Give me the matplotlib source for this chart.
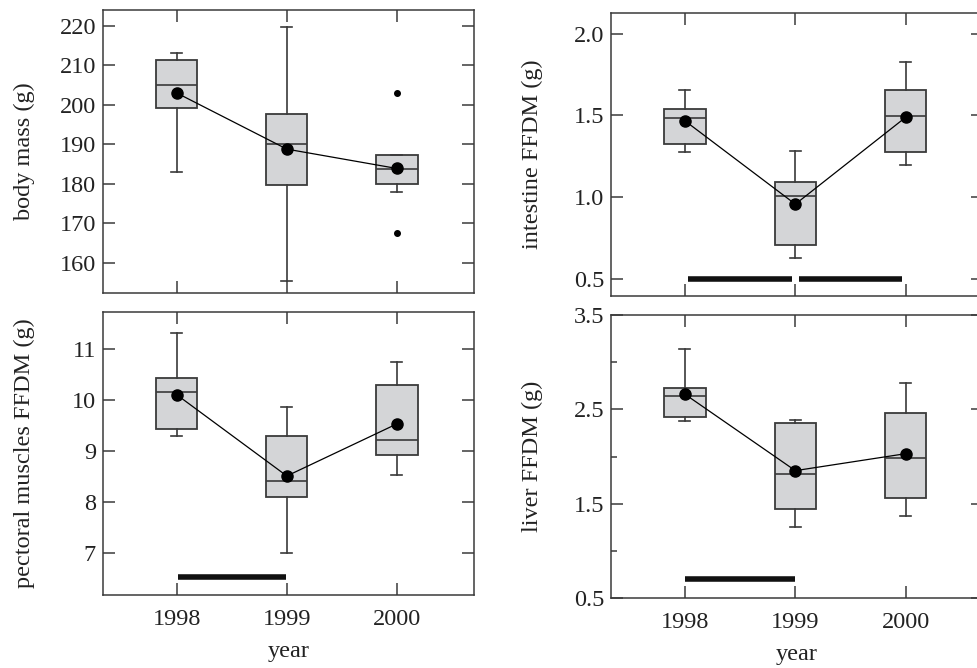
import numpy as np
import matplotlib.pyplot as plt

plt.rcParams['font.family'] = ['Liberation Serif', 'DejaVu Serif']
plt.rcParams['font.size'] = 17.5

years = ['1998', '1999', '2000']

# body mass (g)
mass_lo = [182.9, 155.5, 178.0]
mass_q1 = [199.1, 179.8, 179.9]
mass_med = [204.9, 190.0, 183.7]
mass_q3 = [211.4, 197.6, 187.2]
mass_hi = [213.1, 219.8, 187.2]
mass_mean = [203.0, 188.8, 183.9]
mass_out = [[], [], [203.0, 167.6]]

# intestine FFDM (g)
gut_lo = [1.276, 0.628, 1.196]
gut_q1 = [1.323, 0.705, 1.276]
gut_med = [1.486, 1.003, 1.498]
gut_q3 = [1.539, 1.089, 1.657]
gut_hi = [1.657, 1.282, 1.824]
gut_mean = [1.466, 0.956, 1.488]
gut_out = [[], [], []]
gut_sig = [(0, 1), (1, 2)]
gut_sig_y = 0.5

# pectoral muscles FFDM (g)
pec_lo = [9.30, 7.00, 8.52]
pec_q1 = [9.43, 8.10, 8.92]
pec_med = [10.15, 8.41, 9.22]
pec_q3 = [10.43, 9.29, 10.29]
pec_hi = [11.31, 9.87, 10.74]
pec_mean = [10.10, 8.51, 9.53]
pec_out = [[], [], []]
pec_sig = [(0, 1)]
pec_sig_y = 6.53

# liver FFDM (g)
liv_lo = [2.378, 1.255, 1.368]
liv_q1 = [2.417, 1.446, 1.559]
liv_med = [2.64, 1.81, 1.98]
liv_q3 = [2.723, 2.353, 2.459]
liv_hi = [3.143, 2.392, 2.784]
liv_mean = [2.66, 1.85, 2.03]
liv_out = [[], [], []]
liv_sig = [(0, 1)]
liv_sig_y = 0.70

edge = '#3a3a3a'
fill = '#d4d5d7'


def panel(ax, lo, q1, med, q3, hi, mean, out, ylabel, ylim, yticks,
          sig=(), sig_y=None, gap=0.0):
    pos = np.arange(len(years))
    stats = []
    for i in range(len(years)):
        stats.append(dict(whislo=lo[i], q1=q1[i], med=med[i], q3=q3[i],
                          whishi=hi[i], fliers=out[i]))
    ax.bxp(stats, positions=pos, widths=0.375, capwidths=0.1,
           patch_artist=True, showfliers=True,
           boxprops=dict(facecolor=fill, edgecolor=edge, linewidth=1.3),
           medianprops=dict(color=edge, linewidth=1.2),
           whiskerprops=dict(color=edge, linewidth=1.2),
           capprops=dict(color=edge, linewidth=1.2),
           flierprops=dict(marker='o', markerfacecolor='black',
                           markeredgecolor='black', markersize=4))
    ax.plot(pos, mean, color='black', lw=0.9, marker='o', markersize=8,
            zorder=5)
    for a, b in sig:
        ax.plot([a + gap, b - gap], [sig_y, sig_y], color='#111111',
                lw=4, solid_capstyle='butt', zorder=4)
    ax.set_xlim(-0.67, 2.7)
    ax.set_ylim(*ylim)
    ax.set_yticks(yticks)
    ax.set_xticks(pos)
    ax.set_xticklabels(years)
    ax.set_ylabel(ylabel)
    ax.tick_params(direction='in', top=True, right=True, length=8.5,
                   width=1.1, color=edge, pad=5, labelcolor='#222222')
    ax.tick_params(axis='x', pad=10)
    for s in ax.spines.values():
        s.set_linewidth(1.1)
        s.set_color(edge)


fig = plt.figure(figsize=(9.78, 6.68), dpi=100)
W, H = 978, 668


def box(l, t, r, b):
    return [l / W, 1 - b / H, (r - l) / W, (b - t) / H]


ax1 = fig.add_axes(box(103, 10, 474, 293))
ax2 = fig.add_axes(box(611, 13, 983, 296))
ax3 = fig.add_axes(box(103, 312, 474, 595))
ax4 = fig.add_axes(box(611, 315, 983, 598))

panel(ax1, mass_lo, mass_q1, mass_med, mass_q3, mass_hi, mass_mean, mass_out,
      'body mass (g)', (152.4, 224.0), [160, 170, 180, 190, 200, 210, 220])
panel(ax2, gut_lo, gut_q1, gut_med, gut_q3, gut_hi, gut_mean, gut_out,
      'intestine FFDM (g)', (0.394, 2.126), [0.5, 1.0, 1.5, 2.0],
      gut_sig, gut_sig_y, gap=0.03)
ax2.set_yticklabels(['0.5', '1.0', '1.5', '2.0'])
panel(ax3, pec_lo, pec_q1, pec_med, pec_q3, pec_hi, pec_mean, pec_out,
      'pectoral muscles FFDM (g)', (6.18, 11.72), [7, 8, 9, 10, 11],
      pec_sig, pec_sig_y, gap=0.01)
panel(ax4, liv_lo, liv_q1, liv_med, liv_q3, liv_hi, liv_mean, liv_out,
      'liver FFDM (g)', (0.5, 3.5), [0.5, 1.5, 2.5, 3.5],
      liv_sig, liv_sig_y, gap=0.0)
ax4.set_yticks([1.0, 2.0, 3.0], minor=True)
ax4.tick_params(which='minor', direction='in', left=True, right=False,
                length=4.3, width=1.1, color=edge)
ax4.set_yticklabels(['0.5', '1.5', '2.5', '3.5'])

for ax in (ax1, ax2):
    ax.tick_params(labelbottom=False)
for ax in (ax3, ax4):
    ax.set_xlabel('year', labelpad=8, color='#222222')

for ax in (ax1, ax2, ax3, ax4):
    ax.yaxis.set_label_coords(-0.184, 0.5)
    ax.yaxis.label.set_color('#222222')

fig.savefig('out.png', dpi=100)
